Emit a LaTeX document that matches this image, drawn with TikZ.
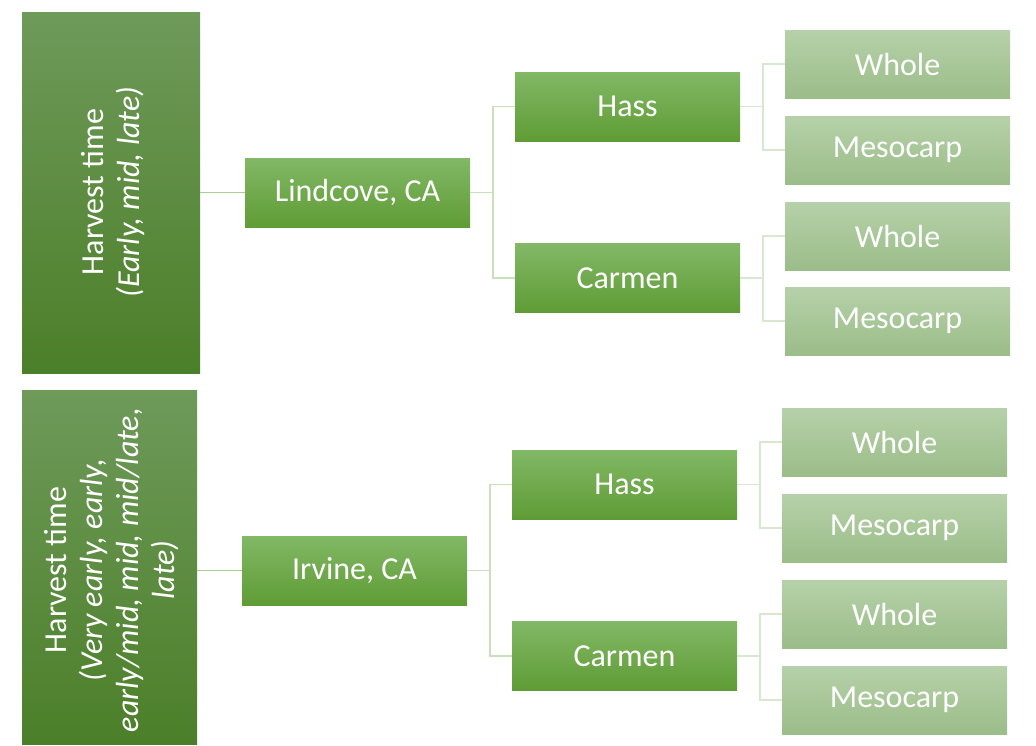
\documentclass[tikz,border=0pt]{standalone}
\usepackage{fontspec}
\setmainfont{Carlito}
\definecolor{rootTop}{HTML}{6E9A5A}
\definecolor{rootBot}{HTML}{4C7F29}
\definecolor{midTop}{HTML}{82B866}
\definecolor{midBot}{HTML}{5F9C35}
\definecolor{leafTop}{HTML}{B6D1A9}
\definecolor{leafBot}{HTML}{9BBD89}
\definecolor{lineA}{HTML}{A8CF94}
\definecolor{lineB}{HTML}{C8E0BC}
\definecolor{lineC}{HTML}{D8E8D0}
\tikzset{
  rootbox/.style={rectangle, inner sep=0pt, top color=rootTop, bottom color=rootBot, draw=none},
  midbox/.style={rectangle, inner sep=0pt, minimum width=225pt, minimum height=69pt, top color=midTop, bottom color=midBot, draw=none, text=white, font=\fontsize{32}{38}\selectfont},
  leafbox/.style={rectangle, inner sep=0pt, minimum width=225pt, minimum height=68pt, top color=leafTop, bottom color=leafBot, draw=none, text=white, font=\fontsize{32}{38}\selectfont},
  roottext/.style={rotate=90, text=white, align=center, font=\fontsize{32}{36}\selectfont},
  linkA/.style={draw=lineA, line width=1.5pt},
  linkB/.style={draw=lineB, line width=1.5pt},
  linkC/.style={draw=lineC, line width=1.5pt},
}
\begin{document}
\begin{tikzpicture}[x=1pt,y=-1pt]
\useasboundingbox (0,0) rectangle (1036,745);
% ---------- top block ----------
\node[rootbox, minimum width=178pt, minimum height=361pt] (topL) at (111,192.5) {};
\node[roottext] (topLtext) at (113.5,192) {Harvest time\\\textit{(Early, mid, late)}};
\node[midbox] (lind) at (357.5,192.5) {Lindcove, CA};
\node[midbox] (hass1) at (627.5,106.5) {Hass};
\node[midbox] (carm1) at (627.5,278) {Carmen};
\node[leafbox] (w1) at (897.5,64) {Whole};
\node[leafbox] (m1) at (897.5,150) {Mesocarp};
\node[leafbox] (w2) at (897.5,236) {Whole};
\node[leafbox] (m2) at (897.5,321) {Mesocarp};
\draw[linkA] (topL.east |- lind.west) -- (lind.west);
\draw[linkB] (lind.east) -- ++(23,0) |- (hass1.west);
\draw[linkB] (lind.east) -- ++(23,0) |- (carm1.west);
\draw[linkC] (hass1.east) -- ++(23,0) |- (w1.west);
\draw[linkC] (hass1.east) -- ++(23,0) |- (m1.west);
\draw[linkC] (carm1.east) -- ++(23,0) |- (w2.west);
\draw[linkC] (carm1.east) -- ++(23,0) |- (m2.west);
% ---------- bottom block ----------
\node[rootbox, minimum width=175pt, minimum height=354pt] (botL) at (109.5,567) {};
\node[roottext] (botLtext) at (112,570) {Harvest time\\\textit{(Very early, early,}\\\textit{early/mid, mid, mid/late,}\\\textit{late)}};
\node[midbox] (irv) at (354.5,570.5) {Irvine, CA};
\node[midbox] (hass2) at (624.5,484.5) {Hass};
\node[midbox] (carm2) at (624.5,656) {Carmen};
\node[leafbox] (w3) at (894.5,442) {Whole};
\node[leafbox] (m3) at (894.5,528) {Mesocarp};
\node[leafbox] (w4) at (894.5,614) {Whole};
\node[leafbox] (m4) at (894.5,700) {Mesocarp};
\draw[linkA] (botL.east |- irv.west) -- (irv.west);
\draw[linkB] (irv.east) -- ++(23,0) |- (hass2.west);
\draw[linkB] (irv.east) -- ++(23,0) |- (carm2.west);
\draw[linkC] (hass2.east) -- ++(23,0) |- (w3.west);
\draw[linkC] (hass2.east) -- ++(23,0) |- (m3.west);
\draw[linkC] (carm2.east) -- ++(23,0) |- (w4.west);
\draw[linkC] (carm2.east) -- ++(23,0) |- (m4.west);
\end{tikzpicture}
\end{document}
